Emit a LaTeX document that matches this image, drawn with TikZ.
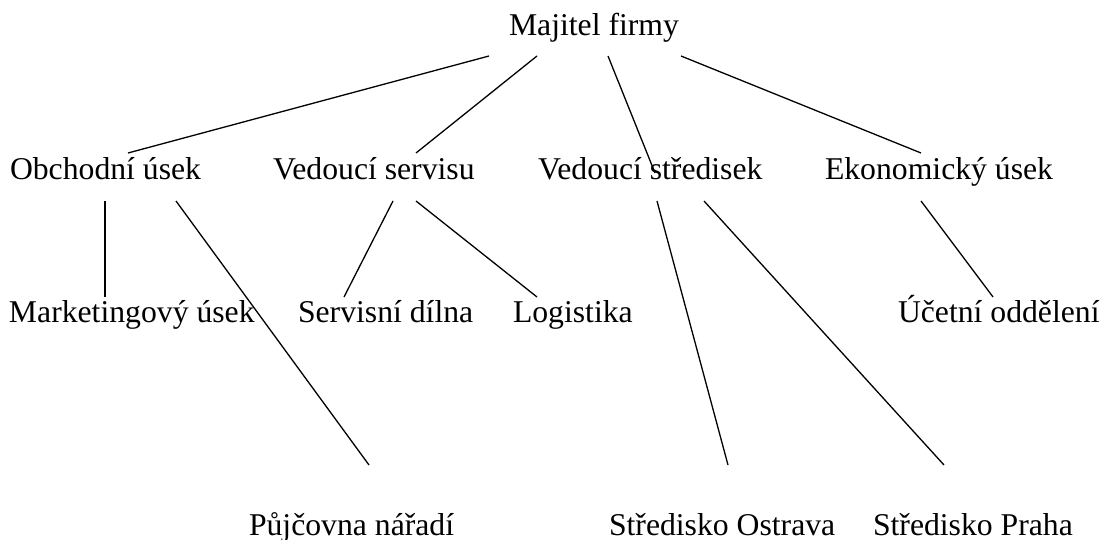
\documentclass[tikz,border=0pt]{standalone}
\usepackage{fontspec}
\setmainfont{Liberation Serif}
\begin{document}
\begin{tikzpicture}[x=1pt,y=-1pt,
  lbl/.style={anchor=base west,inner sep=0pt,outer sep=0pt,font=\fontsize{31.7}{36}\selectfont},
  conn/.style={line width=1.3pt}]
\useasboundingbox (0,0) rectangle (1106,540);
% nodes
\node[lbl] (maj) at (509,36) {Majitel firmy};
\node[lbl] (obch) at (10,180) {Obchodní úsek};
\node[lbl] (vserv) at (273,180) {Vedoucí servisu};
\node[lbl] (vstr) at (538,180) {Vedoucí středisek};
\node[lbl] (ekon) at (825,180) {Ekonomický úsek};
\node[lbl] (mark) at (9,322) {Marketingový úsek};
\node[lbl] (sdil) at (298,322) {Servisní dílna};
\node[lbl] (log) at (513,322) {Logistika};
\node[lbl] (ucet) at (898,322) {Účetní oddělení};
\node[lbl] (pujc) at (249,535) {Půjčovna nářadí};
\node[lbl] (ostr) at (609,535) {Středisko Ostrava};
\node[lbl] (praha) at (873,535) {Středisko Praha};
% connector end points
\coordinate (maj-o) at (489,56);
\coordinate (maj-vs) at (537,56);
\coordinate (maj-vst) at (608,56);
\coordinate (maj-e) at (681,56);
\coordinate (obch-t) at (128,153);
\coordinate (vserv-t) at (416,153);
\coordinate (vstr-t) at (655,173);
\coordinate (ekon-t) at (921,153);
\coordinate (obch-b1) at (105,201);
\coordinate (obch-b2) at (176,201);
\coordinate (vserv-b1) at (393,201);
\coordinate (vserv-b2) at (416,201);
\coordinate (vstr-b1) at (657,201);
\coordinate (vstr-b2) at (704,201);
\coordinate (ekon-b) at (921,201);
\coordinate (mark-t) at (105,297);
\coordinate (sdil-t) at (344,297);
\coordinate (log-t) at (537,297);
\coordinate (ucet-t) at (993,297);
\coordinate (pujc-t) at (369,465);
\coordinate (ostr-t) at (728,465);
\coordinate (praha-t) at (944,465);
% connectors
\draw[conn] (maj-o) -- (obch-t);
\draw[conn] (maj-vs) -- (vserv-t);
\draw[conn] (maj-vst) -- (vstr-t);
\draw[conn] (maj-e) -- (ekon-t);
\draw[conn] (obch-b1) -- (mark-t);
\draw[conn] (obch-b2) -- (pujc-t);
\draw[conn] (vserv-b1) -- (sdil-t);
\draw[conn] (vserv-b2) -- (log-t);
\draw[conn] (vstr-b1) -- (ostr-t);
\draw[conn] (vstr-b2) -- (praha-t);
\draw[conn] (ekon-b) -- (ucet-t);
\end{tikzpicture}
\end{document}
